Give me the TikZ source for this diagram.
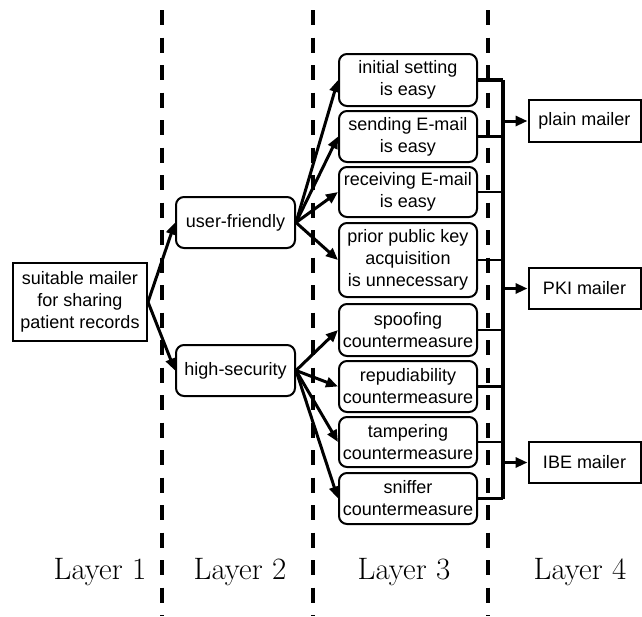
\documentclass[tikz,border=0pt]{standalone}
\usepackage{fontspec}
\newfontfamily\boxfont{Liberation Sans}
\usetikzlibrary{arrows.meta}
\begin{document}
\begin{tikzpicture}[x=1pt,y=-1pt,
  every node/.style={font=\boxfont\fontsize{18}{22}\selectfont, align=center, inner sep=0pt},
  plainbox/.style={draw, line width=2pt, rectangle},
  roundbox/.style={draw, line width=2pt, rounded corners=8pt},
  layerline/.style={line width=4.5pt, dash pattern=on 15pt off 12.5pt},
  arr/.style={line width=3pt, -{Triangle[length=12pt,width=10pt]}},
  busline/.style={line width=3.5pt},
  tap/.style={line width=2.2pt},
  layerlabel/.style={font=\fontsize{31}{36}\selectfont}
]
\useasboundingbox (0,0) rectangle (642,616);

% layer separators
\coordinate (s1t) at (162,10); \coordinate (s1b) at (162,616);
\coordinate (s2t) at (313,10); \coordinate (s2b) at (313,616);
\coordinate (s3t) at (488,10); \coordinate (s3b) at (488,616);
\draw[layerline] (s1t) -- (s1b);
\draw[layerline] (s2t) -- (s2b);
\draw[layerline] (s3t) -- (s3b);

% layer 1
\node[plainbox, minimum width=134pt, minimum height=78pt] (root) at (80,302)
  {suitable mailer\\for sharing\\patient records};

% layer 2
\node[roundbox, minimum width=119pt, minimum height=51pt] (uf) at (235.5,222.5) {user-friendly};
\node[roundbox, minimum width=119pt, minimum height=51pt] (hs) at (235.5,370.5) {high-security};

% layer 3
\tikzset{crit/.style={roundbox, minimum width=138pt, minimum height=#1}}
\node[crit=52pt] (b1) at (408,80)    {initial setting\\is easy};
\node[crit=51pt] (b2) at (408,136.5) {sending E-mail\\is easy};
\node[crit=50pt] (b3) at (408,192)   {receiving E-mail\\is easy};
\node[crit=74pt] (b4) at (408,260)   {prior public key\\acquisition\\is unnecessary};
\node[crit=52pt] (b5) at (408,330)   {spoofing\\countermeasure};
\node[crit=51pt] (b6) at (408,386.5) {repudiability\\countermeasure};
\node[crit=50pt] (b7) at (408,442)   {tampering\\countermeasure};
\node[crit=51pt] (b8) at (408,498.5) {sniffer\\countermeasure};

% layer 4
\node[plainbox, minimum width=112pt, minimum height=42pt] (plain) at (584.5,121)   {plain mailer};
\node[plainbox, minimum width=112pt, minimum height=41pt] (pki)   at (584.5,288.5) {PKI mailer};
\node[plainbox, minimum width=112pt, minimum height=41pt] (ibe)   at (584.5,462.5) {IBE mailer};

% layer 1 -> layer 2
\draw[arr] (root.east) -- (uf.west);
\draw[arr] (root.east) -- (hs.west);

% layer 2 -> layer 3
\foreach \b in {b1,b2,b3,b4} \draw[arr] (uf.east) -- (\b.west);
\foreach \b in {b5,b6,b7,b8} \draw[arr] (hs.east) -- (\b.west);

% collecting bus
\coordinate (bustop) at (503,80);
\coordinate (busbot) at (503,498.5);
\draw[busline] (bustop) -- (busbot);
\draw[busline] (b1.east) -- (bustop);
\foreach \b in {b2,b3,b4,b5,b6,b7} \draw[tap] (\b.east) -- (\b.east -| bustop);
\draw[tap] (b8.east) -- (busbot);

% bus -> layer 4
\draw[arr] (plain.west -| bustop) -- (plain.west);
\draw[arr] (pki.west -| bustop) -- (pki.west);
\draw[arr] (ibe.west -| bustop) -- (ibe.west);

% layer captions
\node[layerlabel] (l1) at (100,572) {Layer 1};
\node[layerlabel] (l2) at (240,572) {Layer 2};
\node[layerlabel] (l3) at (404,572) {Layer 3};
\node[layerlabel] (l4) at (580,572) {Layer 4};
\end{tikzpicture}
\end{document}
